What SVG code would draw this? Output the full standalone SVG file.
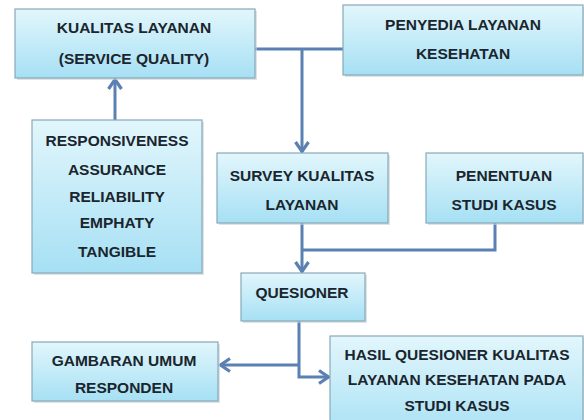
<svg xmlns="http://www.w3.org/2000/svg" width="584" height="420" viewBox="0 0 584 420">
<style>
.box{fill:url(#g);stroke:#86a9b8;stroke-width:1.2}
.sh{fill:#c8d0d4;opacity:0.6}
.t{font-family:"Liberation Sans",Arial,sans-serif;font-weight:bold;font-size:15.5px;fill:#1a252d;text-anchor:middle}
.c{fill:none;stroke:#5a80b4;stroke-width:3}
</style>
<defs>
<linearGradient id="g" x1="0" y1="0" x2="0" y2="1">
<stop offset="0" stop-color="#e2f6fc"/>
<stop offset="1" stop-color="#a6e0f4"/>
</linearGradient>
<marker id="a" viewBox="0 0 14 16" refX="12" refY="8" markerWidth="14" markerHeight="16" markerUnits="userSpaceOnUse" orient="auto">
<path d="M2,1.5 L11.5,8 L2,14.5" fill="none" stroke="#5a80b4" stroke-width="3.2"/>
</marker>
</defs>
<rect width="584" height="420" fill="#ffffff"/>
<g id="connectors">
<path class="c" d="M255,49 H343"/>
<path class="c" d="M302,49 V152" marker-end="url(#a)"/>
<path class="c" d="M115,120 V79" marker-end="url(#a)"/>
<path class="c" d="M495,223 V250 H302"/>
<path class="c" d="M302,223 V272" marker-end="url(#a)"/>
<path class="c" d="M299,321 V377 H329" marker-end="url(#a)"/>
<path class="c" d="M299,365 H220" marker-end="url(#a)"/>
</g>
<g id="kualitas">
<rect class="sh" x="17" y="11" width="240" height="69"/>
<rect class="box" x="15" y="9" width="240" height="69"/>
<text class="t" x="134" y="33">KUALITAS LAYANAN</text>
<text class="t" x="134" y="64">(SERVICE QUALITY)</text>
</g>
<g id="penyedia">
<rect class="sh" x="345" y="7" width="240" height="70"/>
<rect class="box" x="343" y="5" width="240" height="70"/>
<text class="t" x="463" y="30">PENYEDIA LAYANAN</text>
<text class="t" x="463" y="59">KESEHATAN</text>
</g>
<g id="dimensi">
<rect class="sh" x="34" y="122" width="170" height="153"/>
<rect class="box" x="32" y="120" width="170" height="153"/>
<text class="t" x="117" y="146">RESPONSIVENESS</text>
<text class="t" x="117" y="175">ASSURANCE</text>
<text class="t" x="117" y="202">RELIABILITY</text>
<text class="t" x="117" y="228">EMPHATY</text>
<text class="t" x="117" y="257">TANGIBLE</text>
</g>
<g id="survey">
<rect class="sh" x="219" y="155" width="171" height="70"/>
<rect class="box" x="217" y="153" width="171" height="70"/>
<text class="t" x="302" y="181">SURVEY KUALITAS</text>
<text class="t" x="302" y="210">LAYANAN</text>
</g>
<g id="penentuan">
<rect class="sh" x="428" y="155" width="157" height="70"/>
<rect class="box" x="426" y="153" width="157" height="70"/>
<text class="t" x="504" y="181">PENENTUAN</text>
<text class="t" x="504" y="210">STUDI KASUS</text>
</g>
<g id="quesioner">
<rect class="sh" x="243" y="275" width="124" height="48"/>
<rect class="box" x="241" y="273" width="124" height="48"/>
<text class="t" x="302" y="298">QUESIONER</text>
</g>
<g id="gambaran">
<rect class="sh" x="34" y="344" width="186" height="59"/>
<rect class="box" x="32" y="342" width="186" height="59"/>
<text class="t" x="124" y="366">GAMBARAN UMUM</text>
<text class="t" x="124" y="393">RESPONDEN</text>
</g>
<g id="hasil">
<rect class="sh" x="332" y="338" width="253" height="104"/>
<rect class="box" x="330" y="336" width="253" height="104"/>
<text class="t" x="457" y="360">HASIL QUESIONER KUALITAS</text>
<text class="t" x="457" y="385">LAYANAN KESEHATAN PADA</text>
<text class="t" x="457" y="411">STUDI KASUS</text>
</g>
</svg>
